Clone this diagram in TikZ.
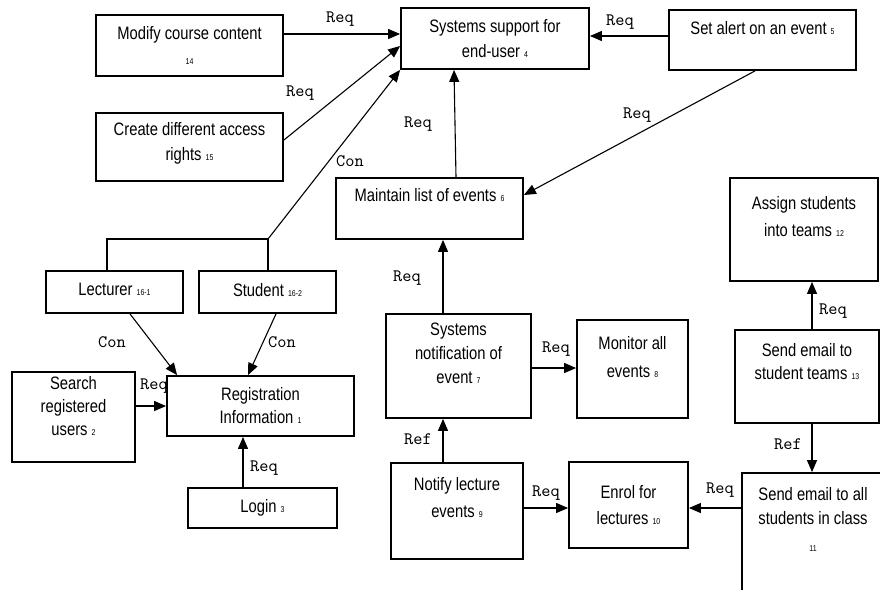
\documentclass[tikz,border=0pt]{standalone}
\usepackage{fontspec}
\setmainfont[FakeStretch=0.82]{Liberation Sans}
\setmonofont{lmmono10-regular.otf}
\usepackage{tikz}
\usetikzlibrary{arrows.meta,shapes}
\tikzstyle{req edge} = [draw, line width=1.1pt, -{Triangle[length=12pt,width=10pt]}]
\tikzstyle{plain edge} = [draw, line width=1.1pt, -]
\newcommand{\numtag}[1]{{\fontsize{8.5}{8.5}\selectfont #1}}

\begin{document}
\begin{tikzpicture}
[x=1pt, y=-1pt,
box/.style={shape=rectangle, draw, line width=1.8pt, inner sep=0pt},
boxText/.style={anchor=north, align=center, inner sep=0pt, font=\fontsize{18}{25}\selectfont},
linkLabel/.style={inner sep=0pt, font=\ttfamily\fontsize{17.5}{17.5}\selectfont}]

\useasboundingbox (0,0) rectangle (880,589);
\clip (0,0) rectangle (880,589);

%% boxes
\foreach \nodename/\x/\y/\w/\h/\dy/\txt in {
b14/189.5/45.5/187/61/12/{Modify course content\\\numtag{14}},
b15/189.5/147/187/68/10/{Create different access\\rights \numtag{15}},
b4/495/38.5/188/61/12/{Systems support for\\end-user \numtag{4}},
b5/762.5/40/187/60/12/{Set alert on an event \numtag{5}},
b6/429.5/208.5/187/61/11/{Maintain list of events \numtag{6}},
b12/804/229.5/148/103/19/{Assign students\\[2pt]into teams \numtag{12}},
b16a/114.5/292/137/42/13/{Lecturer \numtag{16-1}},
b16b/267.5/292/137/42/13/{Student \numtag{16-2}},
b2/73.5/417/123/90/5/{Search\\[-2pt]registered\\[-2pt]users \numtag{2}},
b1/260.5/406/187/60/12/{Registration\\[-2pt]Information \numtag{1}},
b3/262.5/508/149/40/12/{Login \numtag{3}},
b7/458.5/366/145/104/10/{Systems\\[-1pt]notification of\\[-1pt]event \numtag{7}},
b8/632.5/369/111/98/17/{Monitor all\\[3pt]events \numtag{8}},
b9/457/511/132/96/15/{Notify lecture\\[2pt]events \numtag{9}},
b10/628.5/505/119/86/24/{Enrol for\\[1pt]lectures \numtag{10}},
b13/807/376.5/144/93/14/{Send email to\\[-2pt]student teams \numtag{13}},
b11/813/543/142/140/15/{Send email to all\\[-1pt]students in class\\[2pt]\numtag{11}}}
{
\node (\nodename) at (\x,\y) [box, minimum width=\w pt, minimum height=\h pt] {};
\node (\nodename-text) at ([yshift=-\dy pt]\nodename.north) [boxText] {\txt};
}

%% joint line of the two roles
\coordinate (join) at (268,239);
\draw[plain edge] ([xshift=-7.5pt]b16a.north) |- (join);
\draw[plain edge] (join |- b16b.north) -- (join);

%% connectors
\draw[req edge] ([yshift=11.5pt]b14.east) -- ([yshift=11.5pt]b14.east -| b4.west);
\draw[req edge] ([yshift=7pt]b15.east) -- ([yshift=-7.5pt]b4.west);
\draw[req edge] (join) -- (b4.south west);
\draw[req edge] ([yshift=4pt]b5.west) -- ([yshift=4pt]b5.west -| b4.east);
\draw[req edge] ([xshift=-7.5pt]b5.south) -- ([yshift=13.5pt]b6.east);
\draw[req edge] ([xshift=26.5pt]b6.north) -- ([xshift=-41pt]b4.south);
\draw[req edge] ([xshift=-15.5pt]b7.north) -- ([xshift=-15.5pt]b7.north |- b6.south);
\draw[req edge] ([yshift=-2pt]b7.east) -- ([yshift=-2pt]b7.east -| b8.west);
\draw[req edge] ([xshift=-14pt]b9.north) -- ([xshift=-14pt]b9.north |- b7.south);
\draw[req edge] ([yshift=3pt]b9.east) -- ([yshift=3pt]b9.east -| b10.west);
\draw[req edge] ([yshift=-3pt]b10.east -| b11.west) -- ([yshift=-3pt]b10.east);
\draw[req edge] ([xshift=5pt]b13.north) -- ([xshift=5pt]b13.north |- b12.south);
\draw[req edge] ([xshift=5pt]b13.south) -- ([xshift=5pt]b13.south |- b11.north);
\draw[req edge] ([xshift=15.5pt]b16a.south) -- ([xshift=11pt]b1.north west);
\draw[req edge] ([xshift=8.5pt]b16b.south) -- ([xshift=-12.5pt]b1.north);
\draw[req edge] (b2.east |- b1.west) -- (b1.west);
\draw[req edge] ([xshift=-19.5pt]b3.north) -- ([xshift=-19.5pt]b3.north |- b1.south);

%% labels
\foreach \labname/\x/\y/\txt in {
r1/340/19/Req, r2/300/93/Req, c1/350/161/Con, r3/620/22/Req, r4/637/115/Req,
r5/418/124/Req, r6/407/278/Req, r7/556/349/Req, f1/418/439/Ref, r8/546/493/Req,
r9/720/490/Req, r10/833/311/Req, f2/788/444/Ref, c2/112/342/Con, c3/282/342/Con,
r11/154/386/Req, r12/264/468/Req}
{
\node (\labname) at (\x,\y) [linkLabel] {\txt};
}

\end{tikzpicture}
\end{document}
